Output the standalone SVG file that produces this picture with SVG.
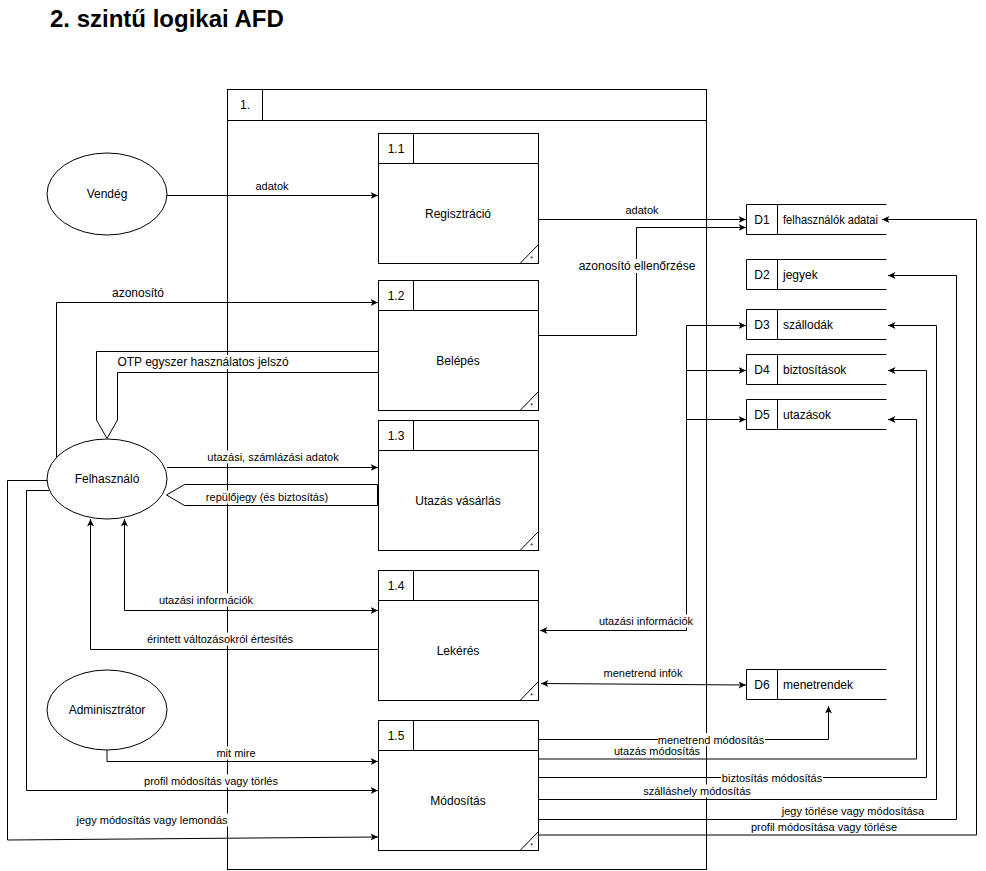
<svg xmlns="http://www.w3.org/2000/svg" width="986" height="871" viewBox="0 0 986 871">
<style>
text{font-family:"Liberation Sans",Arial,Helvetica,sans-serif;fill:#000}
.t12{font-size:12px}
.t11{font-size:11px}
.c{text-anchor:middle}
.box{fill:#fff;stroke:#000;stroke-width:1}
.ln{fill:none;stroke:#000;stroke-width:1}
.bg{fill:#fff;stroke:none}
.star{font-size:7px;text-anchor:middle}
</style>
<defs>
<marker id="a" viewBox="0 0 8 8" refX="7.5" refY="4" markerWidth="8" markerHeight="8" markerUnits="userSpaceOnUse" orient="auto-start-reverse">
<path d="M0,0.5 L7.5,4 L0,7.5 L2,4 Z" fill="#000"/>
</marker>
</defs>
<rect width="986" height="871" fill="#fff"/>
<text x="50" y="27" style="font-size:24px;font-weight:bold">2. szintű logikai AFD</text>

<g id="p1">
<rect class="box" x="227.5" y="89.5" width="479" height="780"/>
<path class="ln" d="M227.5,120.5 H706.5 M262.5,89.5 V120.5"/>
<text class="t12 c" x="245" y="109">1.</text>
</g>

<g id="p1_1">
<rect class="box" x="378.5" y="133.5" width="160" height="130"/>
<path class="ln" d="M378.5,163.5 H538.5 M413.5,133.5 V163.5 M520,263.5 L538.5,244.5"/>
<text class="t12 c" x="396" y="153">1.1</text>
<text class="t12 c" x="458" y="218">Regisztráció</text>
<text class="star" x="531.5" y="261">*</text>
</g>
<g id="p1_2">
<rect class="box" x="378.5" y="280.5" width="160" height="130"/>
<path class="ln" d="M378.5,310.5 H538.5 M413.5,280.5 V310.5 M520,410.5 L538.5,391.5"/>
<text class="t12 c" x="396" y="300">1.2</text>
<text class="t12 c" x="458" y="365">Belépés</text>
<text class="star" x="531.5" y="408">*</text>
</g>
<g id="p1_3">
<rect class="box" x="378.5" y="420.5" width="160" height="130"/>
<path class="ln" d="M378.5,450.5 H538.5 M413.5,420.5 V450.5 M520,550.5 L538.5,531.5"/>
<text class="t12 c" x="396" y="440">1.3</text>
<text class="t12 c" x="458" y="505">Utazás vásárlás</text>
<text class="star" x="531.5" y="548">*</text>
</g>
<g id="p1_4">
<rect class="box" x="378.5" y="570.5" width="160" height="130"/>
<path class="ln" d="M378.5,600.5 H538.5 M413.5,570.5 V600.5 M520,700.5 L538.5,681.5"/>
<text class="t12 c" x="396" y="590">1.4</text>
<text class="t12 c" x="458" y="655">Lekérés</text>
<text class="star" x="531.5" y="698">*</text>
</g>
<g id="p1_5">
<rect class="box" x="378.5" y="720.5" width="160" height="130"/>
<path class="ln" d="M378.5,750.5 H538.5 M413.5,720.5 V750.5 M520,850.5 L538.5,831.5"/>
<text class="t12 c" x="396" y="740">1.5</text>
<text class="t12 c" x="458" y="805">Módosítás</text>
<text class="star" x="531.5" y="848">*</text>
</g>

<g id="vendeg">
<ellipse class="box" cx="107" cy="194" rx="60" ry="41"/>
<text class="t12 c" x="107" y="198">Vendég</text>
</g>
<g id="felhasznalo">
<ellipse class="box" cx="107" cy="479" rx="60" ry="40"/>
<text class="t12 c" x="107" y="483">Felhasználó</text>
</g>
<g id="admin">
<ellipse class="box" cx="107" cy="710" rx="60" ry="40"/>
<text class="t12 c" x="107" y="714">Adminisztrátor</text>
</g>

<g id="D1">
<path class="ln" d="M886.5,204.5 H746.5 V234.5 H886.5 M777.5,204.5 V234.5"/>
<text class="t12 c" x="762" y="224">D1</text>
<text class="t12" x="783" y="224" textLength="95" lengthAdjust="spacingAndGlyphs">felhasználók adatai</text>
</g>
<g id="D2">
<path class="ln" d="M886.5,259.5 H746.5 V289.5 H886.5 M777.5,259.5 V289.5"/>
<text class="t12 c" x="762" y="279">D2</text>
<text class="t12" x="783" y="279">jegyek</text>
</g>
<g id="D3">
<path class="ln" d="M886.5,309.5 H746.5 V339.5 H886.5 M777.5,309.5 V339.5"/>
<text class="t12 c" x="762" y="329">D3</text>
<text class="t12" x="783" y="329">szállodák</text>
</g>
<g id="D4">
<path class="ln" d="M886.5,354.5 H746.5 V384.5 H886.5 M777.5,354.5 V384.5"/>
<text class="t12 c" x="762" y="374">D4</text>
<text class="t12" x="783" y="374">biztosítások</text>
</g>
<g id="D5">
<path class="ln" d="M886.5,399.5 H746.5 V429.5 H886.5 M777.5,399.5 V429.5"/>
<text class="t12 c" x="762" y="419">D5</text>
<text class="t12" x="783" y="419">utazások</text>
</g>
<g id="D6">
<path class="ln" d="M886.5,669.5 H746.5 V699.5 H886.5 M777.5,669.5 V699.5"/>
<text class="t12 c" x="762" y="689">D6</text>
<text class="t12" x="783" y="689">menetrendek</text>
</g>

<g id="connectors">
<path class="ln" marker-end="url(#a)" d="M167,195.5 H378"/>
<path class="ln" marker-end="url(#a)" d="M538.5,219.5 H746"/>
<path class="ln" marker-end="url(#a)" d="M538.5,335.5 H636.5 V227.5 H746"/>
<path class="ln" marker-end="url(#a)" d="M56.5,458 V302.5 H378"/>
<path class="ln" d="M378.5,351.5 H96.5 V420 L107,438.5 L117.5,420 V372.5 H378.5"/>
<path class="ln" marker-end="url(#a)" d="M167,467.5 H378"/>
<path class="ln" d="M377.5,484.5 H184.5 L166.5,495 L184.5,505.5 H377.5 Z"/>
<path class="ln" marker-end="url(#a)" d="M378.5,649.5 H90.5 V519"/>
<path class="ln" marker-start="url(#a)" marker-end="url(#a)" d="M124.5,519 V610.5 H378"/>
<path class="ln" marker-end="url(#a)" d="M686.5,630.5 H540"/>
<path class="ln" marker-end="url(#a)" d="M686.5,630.5 V325.5 H746"/>
<path class="ln" marker-end="url(#a)" d="M686.5,370.5 H746"/>
<path class="ln" marker-end="url(#a)" d="M686.5,419.5 H746"/>
<path class="ln" marker-start="url(#a)" marker-end="url(#a)" d="M541,683.5 L746,685"/>
<path class="ln" marker-end="url(#a)" d="M107,750 V761.5 H378"/>
<path class="ln" marker-end="url(#a)" d="M49,490.5 H26.5 V790.5 H378"/>
<path class="ln" marker-end="url(#a)" d="M47,480.5 H7.5 V840 L378,837"/>
<path class="ln" marker-end="url(#a)" d="M538.5,739.5 H828.5 V706"/>
<path class="ln" marker-end="url(#a)" d="M538.5,759 H916.5 V419.5 H888"/>
<path class="ln" marker-end="url(#a)" d="M538.5,777.5 H926.5 V370.5 H888"/>
<path class="ln" marker-end="url(#a)" d="M538.5,799.5 H936.5 V325.5 H888"/>
<path class="ln" marker-end="url(#a)" d="M538.5,819.5 H956.5 V275.5 H888"/>
<path class="ln" marker-end="url(#a)" d="M538.5,835 H976.5 V219.5 H882"/>

<rect class="bg" x="254" y="179.5" width="36" height="13"/>
<text class="t11 c" x="272" y="190">adatok</text>
<rect class="bg" x="624" y="203.5" width="36" height="13"/>
<text class="t11 c" x="642" y="214">adatok</text>
<rect class="bg" x="578" y="259" width="118" height="14"/>
<text class="t12 c" x="637" y="270">azonosító ellenőrzése</text>
<rect class="bg" x="111" y="286" width="54" height="14"/>
<text class="t12 c" x="138" y="297">azonosító</text>
<rect class="bg" x="117" y="355" width="173" height="14"/>
<text class="t12 c" x="203" y="366">OTP egyszer használatos jelszó</text>
<rect class="bg" x="207" y="450.5" width="133" height="13"/>
<text class="t11 c" x="273" y="461">utazási, számlázási adatok</text>
<rect class="bg" x="205" y="490.5" width="124" height="13"/>
<text class="t11 c" x="267" y="501">repülőjegy (és biztosítás)</text>
<rect class="bg" x="158" y="593.5" width="96" height="13"/>
<text class="t11 c" x="206" y="604">utazási információk</text>
<rect class="bg" x="146" y="632.5" width="148" height="13"/>
<text class="t11 c" x="220" y="643">érintett változásokról értesítés</text>
<rect class="bg" x="216" y="746.5" width="41" height="13"/>
<text class="t11 c" x="236" y="757">mit mire</text>
<rect class="bg" x="144" y="774.5" width="135" height="13"/>
<text class="t11 c" x="211" y="785">profil módosítás vagy törlés</text>
<rect class="bg" x="76" y="813.5" width="152" height="13"/>
<text class="t11 c" x="152" y="824">jegy módosítás vagy lemondás</text>
<rect class="bg" x="599" y="614.5" width="95" height="13"/>
<text class="t11 c" x="646" y="625">utazási információk</text>
<rect class="bg" x="603" y="666.5" width="80" height="13"/>
<text class="t11 c" x="643" y="677">menetrend infók</text>
<rect class="bg" x="658" y="733" width="107" height="13"/>
<text class="t11 c" x="711" y="743.5">menetrend módosítás</text>
<rect class="bg" x="614" y="744.5" width="87" height="13"/>
<text class="t11 c" x="657" y="755">utazás módosítás</text>
<rect class="bg" x="721" y="771" width="102" height="13"/>
<text class="t11 c" x="772" y="781.5">biztosítás módosítás</text>
<rect class="bg" x="643" y="784.5" width="108" height="13"/>
<text class="t11 c" x="697" y="795">szálláshely módosítás</text>
<rect class="bg" x="782" y="804.5" width="143" height="13"/>
<text class="t11 c" x="853" y="815">jegy törlése vagy módosítása</text>
<rect class="bg" x="751" y="820.5" width="147" height="13"/>
<text class="t11 c" x="824" y="831">profil módosítása vagy törlése</text>
</g>
</svg>
